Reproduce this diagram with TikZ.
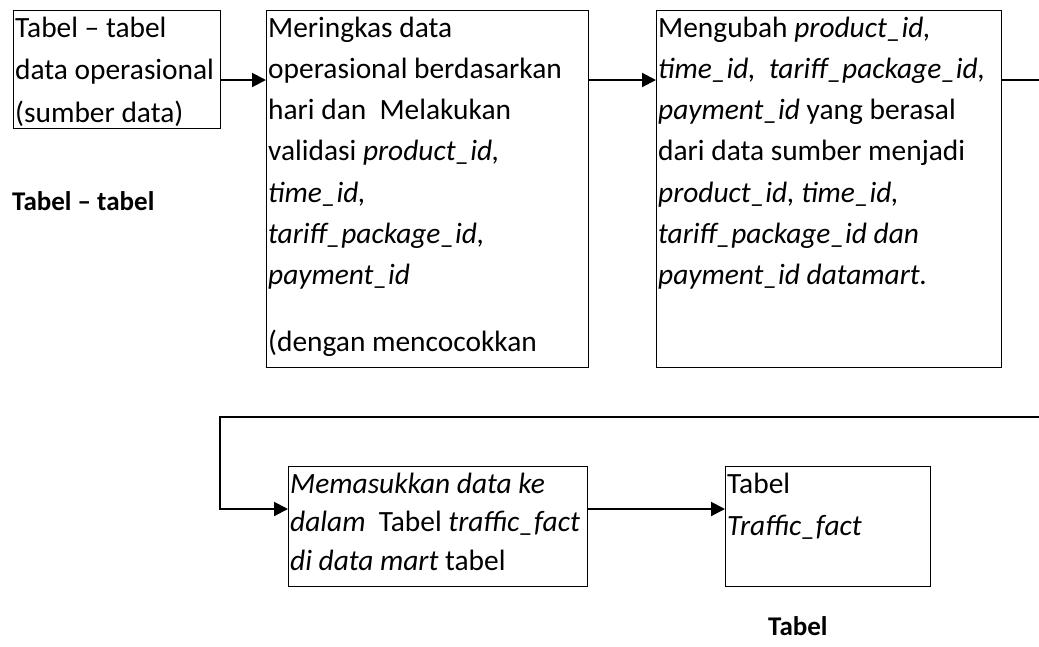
\documentclass[tikz,border=0pt]{standalone}
\usepackage{fontspec}
\setmainfont{Carlito}
\usetikzlibrary{arrows.meta}
\tikzset{
  box/.style={draw, line width=1.4pt, inner sep=0pt, anchor=north west},
  txt/.style={inner sep=0pt, anchor=base west, font=\fontsize{29.4}{41.3}\selectfont},
  conn/.style={line width=2pt, -{Triangle[length=14pt,width=14pt]}},
  plainline/.style={line width=2pt},
  lbl/.style={inner sep=0pt, anchor=base west, font=\fontsize{27}{33}\selectfont\bfseries}
}
\begin{document}
\begin{tikzpicture}[x=1pt,y=-1pt]
\useasboundingbox[fill=white] (0,0) rectangle (1039,646);
% boxes
\node[box, minimum width=207pt, minimum height=118pt] (b1) at (13,10) {};
\node[box, minimum width=322pt, minimum height=357pt] (b2) at (266,10) {};
\node[box, minimum width=345pt, minimum height=357pt] (b3) at (656,10) {};
\node[box, minimum width=299pt, minimum height=120pt] (b4) at (288,466) {};
\node[box, minimum width=205pt, minimum height=120pt] (b5) at (725,466) {};
% texts
\node[txt] (t1) at (15,37) {\parbox[t]{400pt}{\baselineskip=42.5pt\raggedright
Tabel – tabel\\
data operasional\\
(sumber data)}};
\node[txt] (t2) at (268,37) {\parbox[t]{400pt}{\raggedright
Meringkas data\\
operasional berdasarkan\\
hari dan\ \ Melakukan\\
validasi \textit{product\_id,}\\
\textit{time\_id,}\\
\textit{tariff\_package\_id,}\\
\textit{payment\_id}\\[25pt]
(dengan mencocokkan}};
\node[txt] (t3) at (658,37) {\parbox[t]{400pt}{\raggedright
Mengubah \textit{product\_id,}\\
\textit{time\_id,\ \ tariff\_package\_id,}\\
\textit{payment\_id} yang berasal\\
dari data sumber menjadi\\
\textit{product\_id, time\_id,}\\
\textit{tariff\_package\_id dan}\\
\textit{payment\_id datamart.}}};
\node[txt] (t4) at (290,493) {\parbox[t]{400pt}{\baselineskip=38.5pt\raggedright
\textit{Memasukkan data ke}\\
\textit{dalam}\ \ Tabel \textit{traffic\_fact}\\
\textit{di data mart} tabel}};
\node[txt] (t5) at (727,493) {\parbox[t]{400pt}{\baselineskip=42pt\raggedright
Tabel\\
\textit{Traffic\_fact}}};
\node[lbl] (l1) at (12,210) {Tabel – tabel};
\node[lbl] (l2) at (768,635) {Tabel};
% connectors
\coordinate (r1) at (0,80);
\coordinate (r2) at (0,509);
\coordinate (e1) at (1039,80);
\coordinate (e2) at (1039,417);
\coordinate (k) at (220,417);
\draw[conn] (b1.east |- r1) -- (b2.west |- r1);
\draw[conn] (b2.east |- r1) -- (b3.west |- r1);
\draw[plainline] (b3.east |- r1) -- (e1);
\draw[conn] (e2) -- (k) |- (b4.west |- r2);
\draw[conn] (b4.east |- r2) -- (b5.west |- r2);
\end{tikzpicture}
\end{document}
